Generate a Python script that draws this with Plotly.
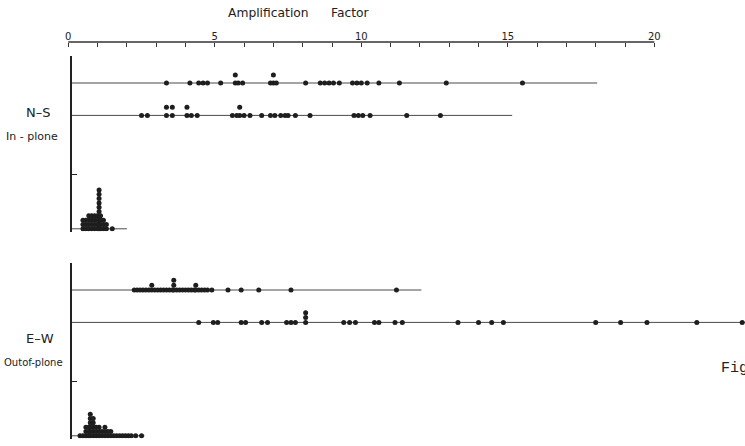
import plotly.graph_objects as go

# ---------------- data ----------------
TICK_VALUES = list(range(0, 21))
TICK_LABELS = [str(v) if v % 5 == 0 else "" for v in TICK_VALUES]

# N-S, in-plane
NS_ROW1 = [3.35, 4.15, 4.45, 4.6, 4.75, 5.2, 5.7, 5.7, 5.8, 5.95, 6.9, 7.0, 7.0, 7.1,
           8.1, 8.6, 8.75, 8.9, 9.05, 9.25, 9.7, 9.85, 10.0, 10.2, 10.6, 11.3, 12.9, 15.5]
NS_ROW2 = [2.5, 2.7, 3.35, 3.35, 3.55, 3.55, 4.05, 4.05, 4.2, 4.4, 5.6, 5.75, 5.85, 5.85,
           6.0, 6.2, 6.6, 6.9, 7.05, 7.25, 7.4, 7.5, 7.75, 8.25, 9.75, 9.9, 10.05, 10.3,
           11.55, 12.7]
NS_ROW3 = [0.5, 0.5, 0.5, 0.6, 0.6, 0.6, 0.7, 0.7, 0.7, 0.7, 0.8, 0.8, 0.8, 0.8,
           0.9, 0.9, 0.9, 0.9, 1.0, 1.0, 1.0, 1.0,
           1.05, 1.05, 1.05, 1.05, 1.05, 1.05, 1.05, 1.05, 1.05, 1.05,
           1.1, 1.1, 1.1, 1.1, 1.2, 1.2, 1.2, 1.3, 1.3, 1.5]
NS_LINE_END = [18.05, 15.15, 2.0]

# E-W, out-of-plane
EW_ROW1 = [2.25, 2.35, 2.45, 2.55, 2.65, 2.75, 2.85, 2.85, 2.95, 3.05, 3.15, 3.25, 3.35,
           3.45, 3.55, 3.6, 3.6, 3.6, 3.7, 3.8, 3.9, 4.0, 4.1, 4.2, 4.3, 4.35, 4.35,
           4.45, 4.55, 4.65, 4.75, 4.9, 5.45, 5.9, 6.5, 7.6, 11.2]
EW_ROW2 = [4.45, 4.95, 5.1, 5.9, 6.05, 6.6, 6.8, 7.45, 7.6, 7.75, 8.1, 8.1, 8.1, 9.4,
           9.6, 9.8, 10.45, 10.6, 11.15, 11.4, 13.3, 14.0, 14.45, 14.85, 18.0, 18.85,
           19.75, 21.45, 23.0]
EW_ROW3 = [0.4, 0.5, 0.6, 0.6, 0.6, 0.7, 0.7, 0.7,
           0.75, 0.75, 0.75, 0.75, 0.75, 0.75, 0.85, 0.85, 0.85, 0.85, 0.85,
           0.95, 0.95, 0.95, 1.05, 1.05, 1.05, 1.15, 1.15, 1.25, 1.25, 1.25,
           1.35, 1.35, 1.45, 1.45, 1.55, 1.65, 1.75, 1.85, 1.95, 2.05, 2.15, 2.3, 2.5]
EW_LINE_END = [12.05, 23.5, 2.6]

# ---------------- layout constants ----------------
W, H = 745, 446
ROW_LEVELS = [27, 21, 0]
NS_STEPS = [1.5, 1.5, 0.8]
EW_STEPS = [0.9, 0.9, 0.8]
DOT = "#1e1e1e"
LINE = "#4a4a4a"
TXT = "#222222"

x0_px, px_per_unit = 68.3, 29.3
y_axis_px = 71
x_range = [-x0_px / px_per_unit, (W - x0_px) / px_per_unit]
row_start = (y_axis_px - x0_px) / px_per_unit
x_axis_pos = (H - 42) / H
y_axis_pos = y_axis_px / W


def stacked(values, base, step):
    counts, ys = {}, []
    for v in values:
        k = counts.get(v, 0)
        counts[v] = k + 1
        ys.append(base + k * step)
    return ys


fig = go.Figure()


def add_panel(rows, ends, steps, yref):
    for vals, end, lvl, st in zip(rows, ends, ROW_LEVELS, steps):
        fig.add_trace(go.Scatter(x=[row_start, end], y=[lvl, lvl], mode="lines",
                                 line=dict(color=LINE, width=1),
                                 xaxis="x", yaxis=yref, showlegend=False,
                                 hoverinfo="skip"))
        fig.add_trace(go.Scatter(x=vals, y=stacked(vals, lvl, st), mode="markers",
                                 marker=dict(color=DOT, size=5, line=dict(width=0)),
                                 xaxis="x", yaxis=yref, showlegend=False))


add_panel([NS_ROW1, NS_ROW2, NS_ROW3], NS_LINE_END, NS_STEPS, "y")
add_panel([EW_ROW1, EW_ROW2, EW_ROW3], EW_LINE_END, EW_STEPS, "y2")

yaxis_common = dict(range=[-0.5, 32], anchor="free", position=y_axis_pos,
                    showline=True, linewidth=2, linecolor="#222",
                    ticks="inside", ticklen=5, tickwidth=1, tickcolor="#222",
                    tickvals=[10, 32], showticklabels=False,
                    showgrid=False, zeroline=False)

fig.update_layout(
    width=W, height=H,
    margin=dict(l=0, r=0, t=0, b=0),
    paper_bgcolor="white", plot_bgcolor="white",
    xaxis=dict(range=x_range, domain=[0, 1], anchor="free", position=x_axis_pos,
               side="top", showline=False, showgrid=False, zeroline=False,
               tickvals=TICK_VALUES, ticktext=TICK_LABELS,
               ticks="inside", ticklen=4, tickwidth=1, tickcolor="#333",
               tickfont=dict(size=10, color=TXT, family="DejaVu Sans")),
    yaxis=dict(domain=[(H - 231.5) / H, (H - 56) / H], **yaxis_common),
    yaxis2=dict(domain=[(H - 438.5) / H, (H - 263) / H], **yaxis_common),
    shapes=[dict(type="line", xref="x", yref="paper", x0=TICK_VALUES[0],
                 x1=TICK_VALUES[-1], y0=x_axis_pos, y1=x_axis_pos,
                 line=dict(color="#333", width=1.5))],
)


def label(text, xpx, ypx, size, family="DejaVu Sans", xanchor="center"):
    fig.add_annotation(text=text, x=xpx / W, y=(H - ypx) / H, xref="paper",
                       yref="paper", showarrow=False, xanchor=xanchor,
                       yanchor="middle", font=dict(size=size, color=TXT, family=family))


label("Amplification", 268, 13, 12.3)
label("Factor", 350, 13, 12.3)
label("N\u2013S", 38, 113, 13)
label("In - plone", 32, 136, 11)
label("E\u2013W", 40, 338, 13)
label("Outof-plone", 33, 362, 10)
label("Fig.", 719, 368, 15, family="Liberation Mono", xanchor="left")

fig.write_html("out.html")
